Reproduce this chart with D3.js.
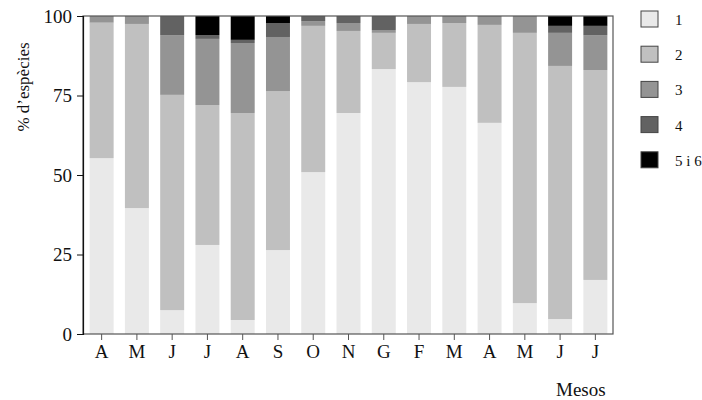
<!DOCTYPE html>
<html>
<head>
<meta charset="utf-8">
<script src="https://cdn.jsdelivr.net/npm/d3@7"></script>
<style>
  body { margin: 0; background: #fff; }
  svg { display: block; font-family: "Liberation Serif", "DejaVu Serif", serif; }
</style>
</head>
<body>
<svg id="chart" width="702" height="400"></svg>
<script>
const months = ["A","M","J","J","A","S","O","N","G","F","M","A","M","J","J"];
const seriesNames = ["1","2","3","4","5 i 6"];
const s1 = [55.3, 39.6, 7.5, 28.0, 4.4, 26.4, 50.9, 69.5, 83.3, 79.2, 77.7, 66.4, 9.7, 4.7, 17.0];
const s2 = [42.6, 57.9, 67.7, 44.0, 65.1, 50.0, 46.0, 25.8, 11.4, 18.3, 20.1, 30.8, 85.0, 79.6, 66.0];
const s3 = [2.1, 2.5, 18.8, 20.8, 22.0, 17.0, 1.5, 2.5, 0.9, 2.5, 2.2, 2.8, 5.3, 10.4, 11.0];
const s4 = [0, 0, 6.0, 1.2, 1.0, 4.4, 1.6, 2.2, 4.4, 0, 0, 0, 0, 2.2, 2.9];
const s5 = [0, 0, 0, 6.0, 7.5, 2.2, 0, 0, 0, 0, 0, 0, 0, 3.1, 3.1];
const yTicks = [0, 25, 50, 75, 100];
const colors = ["#e9e9e9", "#c0c0c0", "#949494", "#626262", "#000000"];

const svg = d3.select("#chart");
const mLeft = 83, mRight = 613, mTop = 16, mBottom = 334;

const rows = months.map((m, i) => ({ i, m, s0: s1[i], s1: s2[i], s2: s3[i], s3: s4[i], s4: s5[i] }));
const keys = ["s0","s1","s2","s3","s4"];
const stack = d3.stack().keys(keys)(rows);

const x = d3.scaleBand().domain(d3.range(months.length)).range([84, mRight]).paddingInner(0.32).paddingOuter(0.16);
const y = d3.scaleLinear().domain([0, 100]).range([mBottom, mTop]);
const color = d3.scaleOrdinal().domain(keys).range(colors);

svg.append("g").selectAll("g").data(stack).join("g")
  .attr("fill", d => color(d.key))
  .selectAll("rect").data(d => d).join("rect")
  .attr("x", d => x(d.data.i))
  .attr("width", x.bandwidth())
  .attr("y", d => y(d[1]))
  .attr("height", d => Math.max(0, y(d[0]) - y(d[1])));

// frame
svg.append("rect").attr("x", mLeft).attr("y", mTop).attr("width", mRight - mLeft).attr("height", mBottom - mTop)
  .attr("fill", "none").attr("stroke", "#555").attr("stroke-width", 1.2);

// y axis
const yAxis = d3.axisLeft(y).tickValues(yTicks).tickSize(6).tickPadding(5).tickFormat(d3.format("d"));
const gy = svg.append("g").attr("transform", `translate(${mLeft},0)`).call(yAxis);
gy.select(".domain").attr("stroke", "#111").attr("stroke-width", 1.2);
gy.selectAll(".tick line").attr("stroke", "#111");
gy.selectAll("text").attr("font-size", 19).attr("fill", "#111").attr("font-family", "Liberation Serif");

// x axis
const xAxis = d3.axisBottom(x).tickFormat(i => months[i]).tickSize(6).tickPadding(5);
const gx = svg.append("g").attr("transform", `translate(0,${mBottom})`).call(xAxis);
gx.select(".domain").remove();
gx.selectAll(".tick line").attr("stroke", "#555");
gx.selectAll("text").attr("font-size", 19).attr("fill", "#111").attr("font-family", "Liberation Serif");

// titles
svg.append("text").attr("x", 556).attr("y", 396).attr("font-size", 19).attr("fill", "#111").text("Mesos");
svg.append("text").attr("transform", "translate(29,87) rotate(-90)").attr("text-anchor", "middle")
  .attr("font-size", 17).attr("fill", "#111").text("% d’espècies");

// legend
const lg = svg.append("g").selectAll("g").data(seriesNames).join("g")
  .attr("transform", (d, i) => `translate(641,${11 + i * 35.2})`);
lg.append("rect").attr("width", 17).attr("height", 16)
  .attr("fill", (d, i) => colors[i]).attr("stroke", "#444").attr("stroke-width", 1);
lg.append("text").attr("x", 34).attr("y", 14).attr("font-size", 15).attr("fill", "#111").text(d => d);
</script>
</body>
</html>
